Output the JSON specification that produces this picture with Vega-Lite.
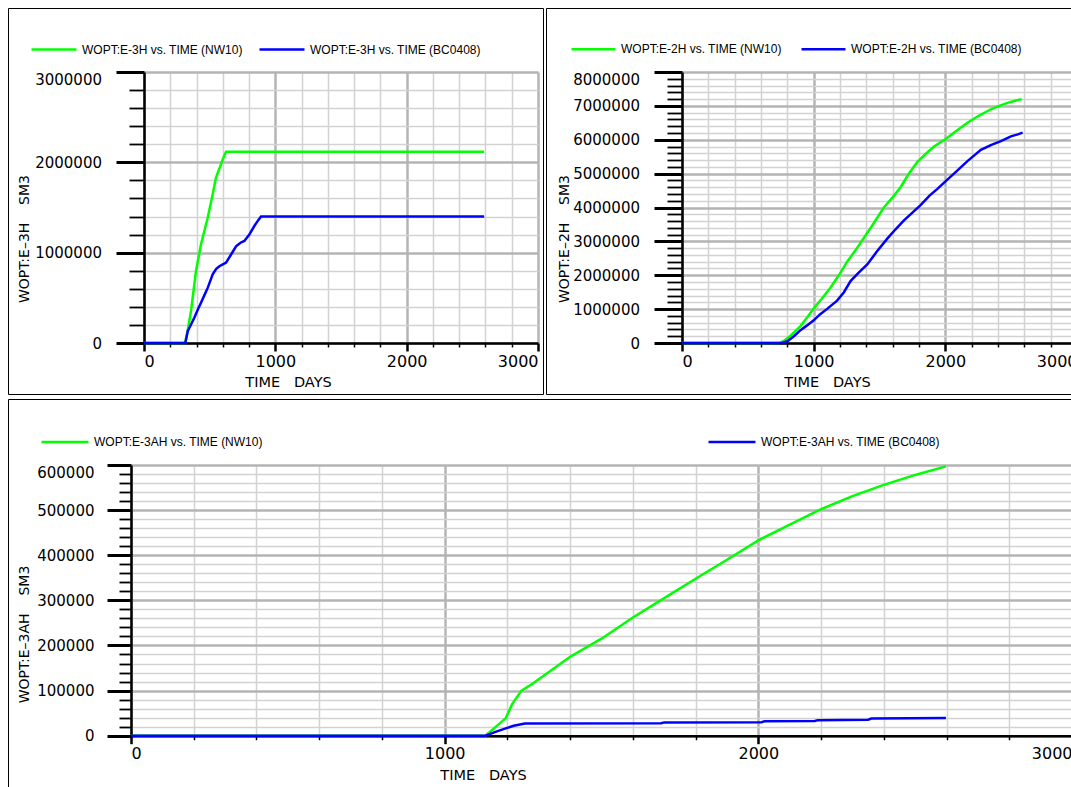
{
  "$schema": "https://vega.github.io/schema/vega-lite/v6.json",
  "padding": {"left": 7, "top": 7, "right": 0, "bottom": 0},
  "background": "white",
  "config": {
    "view": {"stroke": "#000000", "strokeWidth": 1, "fill": "white"},
    "line": {"strokeWidth": 2.5},
    "axis": {
      "labelFont": "DejaVu Sans", "labelColor": "#000000", "labelOverlap": false,
      "domainColor": "#000000", "domainWidth": 2.5, "tickColor": "#000000",
      "titleFont": "DejaVu Sans", "titleFontWeight": "normal", "titleColor": "#000000",
      "format": "d", "tickCount": 200
    },
    "legend": {
      "labelFont": "Liberation Sans", "labelFontSize": 12, "labelColor": "#000000",
      "symbolType": "stroke", "symbolStrokeWidth": 2.5, "labelOffset": 4, "padding": 0, "labelLimit": 400
    }
  },
  "datasets": {
    "tl_a": [
      {"t": 0, "v": 0, "s": "WOPT:E-3H vs. TIME (NW10)"},
      {"t": 312, "v": 0, "s": "WOPT:E-3H vs. TIME (NW10)"},
      {"t": 330, "v": 120000, "s": "WOPT:E-3H vs. TIME (NW10)"},
      {"t": 358, "v": 354000, "s": "WOPT:E-3H vs. TIME (NW10)"},
      {"t": 396, "v": 797000, "s": "WOPT:E-3H vs. TIME (NW10)"},
      {"t": 434, "v": 1093000, "s": "WOPT:E-3H vs. TIME (NW10)"},
      {"t": 485, "v": 1387000, "s": "WOPT:E-3H vs. TIME (NW10)"},
      {"t": 523, "v": 1646000, "s": "WOPT:E-3H vs. TIME (NW10)"},
      {"t": 548, "v": 1830000, "s": "WOPT:E-3H vs. TIME (NW10)"},
      {"t": 586, "v": 1978000, "s": "WOPT:E-3H vs. TIME (NW10)"},
      {"t": 610, "v": 2070000, "s": "WOPT:E-3H vs. TIME (NW10)"},
      {"t": 625, "v": 2118000, "s": "WOPT:E-3H vs. TIME (NW10)"},
      {"t": 2590, "v": 2118000, "s": "WOPT:E-3H vs. TIME (NW10)"}
    ],
    "tl_b": [
      {"t": 0, "v": 0, "s": "WOPT:E-3H vs. TIME (BC0408)"},
      {"t": 315, "v": 0, "s": "WOPT:E-3H vs. TIME (BC0408)"},
      {"t": 333, "v": 130000, "s": "WOPT:E-3H vs. TIME (BC0408)"},
      {"t": 360, "v": 210000, "s": "WOPT:E-3H vs. TIME (BC0408)"},
      {"t": 383, "v": 280000, "s": "WOPT:E-3H vs. TIME (BC0408)"},
      {"t": 410, "v": 370000, "s": "WOPT:E-3H vs. TIME (BC0408)"},
      {"t": 434, "v": 446000, "s": "WOPT:E-3H vs. TIME (BC0408)"},
      {"t": 460, "v": 530000, "s": "WOPT:E-3H vs. TIME (BC0408)"},
      {"t": 485, "v": 610000, "s": "WOPT:E-3H vs. TIME (BC0408)"},
      {"t": 523, "v": 760000, "s": "WOPT:E-3H vs. TIME (BC0408)"},
      {"t": 550, "v": 820000, "s": "WOPT:E-3H vs. TIME (BC0408)"},
      {"t": 574, "v": 850000, "s": "WOPT:E-3H vs. TIME (BC0408)"},
      {"t": 600, "v": 870000, "s": "WOPT:E-3H vs. TIME (BC0408)"},
      {"t": 625, "v": 890000, "s": "WOPT:E-3H vs. TIME (BC0408)"},
      {"t": 663, "v": 980000, "s": "WOPT:E-3H vs. TIME (BC0408)"},
      {"t": 701, "v": 1070000, "s": "WOPT:E-3H vs. TIME (BC0408)"},
      {"t": 735, "v": 1110000, "s": "WOPT:E-3H vs. TIME (BC0408)"},
      {"t": 764, "v": 1130000, "s": "WOPT:E-3H vs. TIME (BC0408)"},
      {"t": 802, "v": 1200000, "s": "WOPT:E-3H vs. TIME (BC0408)"},
      {"t": 840, "v": 1295000, "s": "WOPT:E-3H vs. TIME (BC0408)"},
      {"t": 870, "v": 1360000, "s": "WOPT:E-3H vs. TIME (BC0408)"},
      {"t": 891, "v": 1400000, "s": "WOPT:E-3H vs. TIME (BC0408)"},
      {"t": 2590, "v": 1400000, "s": "WOPT:E-3H vs. TIME (BC0408)"}
    ],
    "tr_a": [
      {"t": 0, "v": 0, "s": "WOPT:E-2H vs. TIME (NW10)"},
      {"t": 740, "v": 0, "s": "WOPT:E-2H vs. TIME (NW10)"},
      {"t": 780, "v": 80000, "s": "WOPT:E-2H vs. TIME (NW10)"},
      {"t": 820, "v": 200000, "s": "WOPT:E-2H vs. TIME (NW10)"},
      {"t": 860, "v": 350000, "s": "WOPT:E-2H vs. TIME (NW10)"},
      {"t": 900, "v": 500000, "s": "WOPT:E-2H vs. TIME (NW10)"},
      {"t": 950, "v": 750000, "s": "WOPT:E-2H vs. TIME (NW10)"},
      {"t": 1000, "v": 1020000, "s": "WOPT:E-2H vs. TIME (NW10)"},
      {"t": 1060, "v": 1300000, "s": "WOPT:E-2H vs. TIME (NW10)"},
      {"t": 1127, "v": 1630000, "s": "WOPT:E-2H vs. TIME (NW10)"},
      {"t": 1200, "v": 2050000, "s": "WOPT:E-2H vs. TIME (NW10)"},
      {"t": 1254, "v": 2400000, "s": "WOPT:E-2H vs. TIME (NW10)"},
      {"t": 1320, "v": 2750000, "s": "WOPT:E-2H vs. TIME (NW10)"},
      {"t": 1381, "v": 3100000, "s": "WOPT:E-2H vs. TIME (NW10)"},
      {"t": 1450, "v": 3500000, "s": "WOPT:E-2H vs. TIME (NW10)"},
      {"t": 1533, "v": 4000000, "s": "WOPT:E-2H vs. TIME (NW10)"},
      {"t": 1600, "v": 4300000, "s": "WOPT:E-2H vs. TIME (NW10)"},
      {"t": 1660, "v": 4600000, "s": "WOPT:E-2H vs. TIME (NW10)"},
      {"t": 1720, "v": 4980000, "s": "WOPT:E-2H vs. TIME (NW10)"},
      {"t": 1788, "v": 5350000, "s": "WOPT:E-2H vs. TIME (NW10)"},
      {"t": 1850, "v": 5580000, "s": "WOPT:E-2H vs. TIME (NW10)"},
      {"t": 1914, "v": 5800000, "s": "WOPT:E-2H vs. TIME (NW10)"},
      {"t": 2003, "v": 6020000, "s": "WOPT:E-2H vs. TIME (NW10)"},
      {"t": 2080, "v": 6250000, "s": "WOPT:E-2H vs. TIME (NW10)"},
      {"t": 2168, "v": 6500000, "s": "WOPT:E-2H vs. TIME (NW10)"},
      {"t": 2250, "v": 6700000, "s": "WOPT:E-2H vs. TIME (NW10)"},
      {"t": 2346, "v": 6900000, "s": "WOPT:E-2H vs. TIME (NW10)"},
      {"t": 2410, "v": 7000000, "s": "WOPT:E-2H vs. TIME (NW10)"},
      {"t": 2473, "v": 7090000, "s": "WOPT:E-2H vs. TIME (NW10)"},
      {"t": 2530, "v": 7150000, "s": "WOPT:E-2H vs. TIME (NW10)"},
      {"t": 2580, "v": 7200000, "s": "WOPT:E-2H vs. TIME (NW10)"}
    ],
    "tr_b": [
      {"t": 0, "v": 0, "s": "WOPT:E-2H vs. TIME (BC0408)"},
      {"t": 760, "v": 0, "s": "WOPT:E-2H vs. TIME (BC0408)"},
      {"t": 800, "v": 50000, "s": "WOPT:E-2H vs. TIME (BC0408)"},
      {"t": 850, "v": 200000, "s": "WOPT:E-2H vs. TIME (BC0408)"},
      {"t": 900, "v": 380000, "s": "WOPT:E-2H vs. TIME (BC0408)"},
      {"t": 950, "v": 520000, "s": "WOPT:E-2H vs. TIME (BC0408)"},
      {"t": 1000, "v": 670000, "s": "WOPT:E-2H vs. TIME (BC0408)"},
      {"t": 1050, "v": 850000, "s": "WOPT:E-2H vs. TIME (BC0408)"},
      {"t": 1100, "v": 1000000, "s": "WOPT:E-2H vs. TIME (BC0408)"},
      {"t": 1178, "v": 1250000, "s": "WOPT:E-2H vs. TIME (BC0408)"},
      {"t": 1230, "v": 1500000, "s": "WOPT:E-2H vs. TIME (BC0408)"},
      {"t": 1280, "v": 1830000, "s": "WOPT:E-2H vs. TIME (BC0408)"},
      {"t": 1340, "v": 2070000, "s": "WOPT:E-2H vs. TIME (BC0408)"},
      {"t": 1407, "v": 2320000, "s": "WOPT:E-2H vs. TIME (BC0408)"},
      {"t": 1480, "v": 2700000, "s": "WOPT:E-2H vs. TIME (BC0408)"},
      {"t": 1559, "v": 3080000, "s": "WOPT:E-2H vs. TIME (BC0408)"},
      {"t": 1620, "v": 3350000, "s": "WOPT:E-2H vs. TIME (BC0408)"},
      {"t": 1686, "v": 3620000, "s": "WOPT:E-2H vs. TIME (BC0408)"},
      {"t": 1750, "v": 3850000, "s": "WOPT:E-2H vs. TIME (BC0408)"},
      {"t": 1812, "v": 4070000, "s": "WOPT:E-2H vs. TIME (BC0408)"},
      {"t": 1880, "v": 4350000, "s": "WOPT:E-2H vs. TIME (BC0408)"},
      {"t": 1940, "v": 4550000, "s": "WOPT:E-2H vs. TIME (BC0408)"},
      {"t": 2003, "v": 4780000, "s": "WOPT:E-2H vs. TIME (BC0408)"},
      {"t": 2080, "v": 5050000, "s": "WOPT:E-2H vs. TIME (BC0408)"},
      {"t": 2168, "v": 5370000, "s": "WOPT:E-2H vs. TIME (BC0408)"},
      {"t": 2270, "v": 5700000, "s": "WOPT:E-2H vs. TIME (BC0408)"},
      {"t": 2350, "v": 5850000, "s": "WOPT:E-2H vs. TIME (BC0408)"},
      {"t": 2422, "v": 5960000, "s": "WOPT:E-2H vs. TIME (BC0408)"},
      {"t": 2498, "v": 6100000, "s": "WOPT:E-2H vs. TIME (BC0408)"},
      {"t": 2550, "v": 6160000, "s": "WOPT:E-2H vs. TIME (BC0408)"},
      {"t": 2587, "v": 6210000, "s": "WOPT:E-2H vs. TIME (BC0408)"}
    ],
    "b_a": [
      {"t": 0, "v": 0, "s": "WOPT:E-3AH vs. TIME (NW10)"},
      {"t": 1130, "v": 0, "s": "WOPT:E-3AH vs. TIME (NW10)"},
      {"t": 1160, "v": 18000, "s": "WOPT:E-3AH vs. TIME (NW10)"},
      {"t": 1195, "v": 39000, "s": "WOPT:E-3AH vs. TIME (NW10)"},
      {"t": 1215, "v": 70000, "s": "WOPT:E-3AH vs. TIME (NW10)"},
      {"t": 1245, "v": 100000, "s": "WOPT:E-3AH vs. TIME (NW10)"},
      {"t": 1280, "v": 115000, "s": "WOPT:E-3AH vs. TIME (NW10)"},
      {"t": 1320, "v": 135000, "s": "WOPT:E-3AH vs. TIME (NW10)"},
      {"t": 1400, "v": 175000, "s": "WOPT:E-3AH vs. TIME (NW10)"},
      {"t": 1500, "v": 215000, "s": "WOPT:E-3AH vs. TIME (NW10)"},
      {"t": 1600, "v": 262000, "s": "WOPT:E-3AH vs. TIME (NW10)"},
      {"t": 1700, "v": 305000, "s": "WOPT:E-3AH vs. TIME (NW10)"},
      {"t": 1800, "v": 348000, "s": "WOPT:E-3AH vs. TIME (NW10)"},
      {"t": 1900, "v": 390000, "s": "WOPT:E-3AH vs. TIME (NW10)"},
      {"t": 2000, "v": 433000, "s": "WOPT:E-3AH vs. TIME (NW10)"},
      {"t": 2100, "v": 468000, "s": "WOPT:E-3AH vs. TIME (NW10)"},
      {"t": 2200, "v": 502000, "s": "WOPT:E-3AH vs. TIME (NW10)"},
      {"t": 2300, "v": 531000, "s": "WOPT:E-3AH vs. TIME (NW10)"},
      {"t": 2400, "v": 556000, "s": "WOPT:E-3AH vs. TIME (NW10)"},
      {"t": 2500, "v": 578000, "s": "WOPT:E-3AH vs. TIME (NW10)"},
      {"t": 2598, "v": 597000, "s": "WOPT:E-3AH vs. TIME (NW10)"}
    ],
    "b_b": [
      {"t": 0, "v": 0, "s": "WOPT:E-3AH vs. TIME (BC0408)"},
      {"t": 1130, "v": 0, "s": "WOPT:E-3AH vs. TIME (BC0408)"},
      {"t": 1160, "v": 8000, "s": "WOPT:E-3AH vs. TIME (BC0408)"},
      {"t": 1190, "v": 15000, "s": "WOPT:E-3AH vs. TIME (BC0408)"},
      {"t": 1220, "v": 22000, "s": "WOPT:E-3AH vs. TIME (BC0408)"},
      {"t": 1256, "v": 27000, "s": "WOPT:E-3AH vs. TIME (BC0408)"},
      {"t": 1690, "v": 27500, "s": "WOPT:E-3AH vs. TIME (BC0408)"},
      {"t": 1700, "v": 29500, "s": "WOPT:E-3AH vs. TIME (BC0408)"},
      {"t": 2010, "v": 30000, "s": "WOPT:E-3AH vs. TIME (BC0408)"},
      {"t": 2020, "v": 32000, "s": "WOPT:E-3AH vs. TIME (BC0408)"},
      {"t": 2180, "v": 32500, "s": "WOPT:E-3AH vs. TIME (BC0408)"},
      {"t": 2190, "v": 34500, "s": "WOPT:E-3AH vs. TIME (BC0408)"},
      {"t": 2350, "v": 35500, "s": "WOPT:E-3AH vs. TIME (BC0408)"},
      {"t": 2360, "v": 38000, "s": "WOPT:E-3AH vs. TIME (BC0408)"},
      {"t": 2598, "v": 39000, "s": "WOPT:E-3AH vs. TIME (BC0408)"}
    ]
  },
  "spacing": 3,
  "resolve": {"scale": {"color": "independent"}},
  "vconcat": [
    {
      "spacing": 1,
      "resolve": {"scale": {"color": "independent"}},
      "hconcat": [
        {
          "width": 535, "height": 386,
          "resolve": {"axis": {"x": "independent"}},
          "layer": [
            {
              "data": {"name": "tl_a"},
              "mark": {"type": "line", "strokeWidth": 2.5},
              "encoding": {
                "x": {"field": "t", "type": "quantitative",
                  "scale": {"domain": [0, 3000], "range": [136, 530], "nice": false, "zero": false},
                  "axis": {"orient": "bottom", "offset": -51, "grid": false,
                    "values": [0,200,400,600,800,1000,1200,1400,1600,1800,2000,2200,2400,2600,2800,3000],
                    "labelExpr": "datum.value % 1000 === 0 ? datum.label : ''",
                    "labelFlush": true, "labelFontSize": 16, "labelPadding": 2,
                    "tickSize": {"condition": {"test": "datum.value % 1000 === 0", "value": 8}, "value": 4},
                    "tickWidth": {"condition": {"test": "datum.value % 1000 === 0", "value": 2.5}, "value": 1.5},
                    "title": "TIME\u00a0\u00a0\u00a0DAYS", "titleFontSize": 14.5, "titleX": 280, "titleY": 43,
                    "titleBaseline": "alphabetic", "titleAlign": "center"}},
                "y": {"field": "v", "type": "quantitative",
                  "scale": {"domain": [0, 3000000], "range": [335, 64], "nice": false, "zero": false},
                  "axis": {"orient": "left", "offset": -136, "grid": true,
                    "values": [0,200000,400000,600000,800000,1000000,1200000,1400000,1600000,1800000,2000000,2200000,2400000,2600000,2800000,3000000],
                    "labelExpr": "datum.value % 1000000 === 0 ? datum.label : ''",
                    "labelFontSize": 15, "labelPadding": 14.5,
                    "labelBaseline": {"condition": {"test": "datum.value === 3000000", "value": "top"}, "value": "middle"},
                    "tickSize": {"condition": {"test": "datum.value % 1000000 === 0", "value": 28}, "value": 15},
                    "tickWidth": {"condition": {"test": "datum.value % 1000000 === 0", "value": 3}, "value": 1.8},
                    "gridColor": {"condition": {"test": "datum.value % 1000000 === 0", "value": "#b4b4b4"}, "value": "#d2d2d2"},
                    "gridWidth": {"condition": {"test": "datum.value % 1000000 === 0", "value": 2.5}, "value": 1.5},
                    "title": "WOPT:E–3H\u00a0\u00a0\u00a0\u00a0SM3", "titleFontSize": 14, "titleX": -116, "titleY": 230.5,
                    "titleBaseline": "alphabetic", "titleAlign": "center", "titleAngle": -90}},
                "color": {"field": "s", "type": "nominal",
                  "scale": {"domain": ["WOPT:E-3H vs. TIME (NW10)", "WOPT:E-3H vs. TIME (BC0408)"], "range": ["#00ff00", "#0000ff"]},
                  "legend": {"orient": "none", "legendX": 22, "legendY": 17.5, "direction": "horizontal", "title": null,
                    "symbolSize": 2025, "columnPadding": 11}}
              }
            },
            {
              "data": {"name": "tl_b"},
              "mark": {"type": "line", "strokeWidth": 2.5},
              "encoding": {
                "x": {"field": "t", "type": "quantitative",
                  "axis": {"orient": "top", "grid": true, "domain": false, "ticks": false, "labels": false, "title": null,
                    "values": [0,200,400,600,800,1000,1200,1400,1600,1800,2000,2200,2400,2600,2800,3000],
                    "gridColor": {"condition": {"test": "datum.value % 1000 === 0", "value": "#b4b4b4"}, "value": "#d2d2d2"},
                    "gridWidth": {"condition": {"test": "datum.value % 1000 === 0", "value": 2.5}, "value": 1.5}}},
                "y": {"field": "v", "type": "quantitative"},
                "color": {"field": "s", "type": "nominal"}
              }
            }
          ]
        },
        {
          "width": 530, "height": 386,
          "resolve": {"axis": {"x": "independent"}},
          "layer": [
            {
              "data": {"name": "tr_a"},
              "mark": {"type": "line", "strokeWidth": 2.5},
              "encoding": {
                "x": {"field": "t", "type": "quantitative",
                  "scale": {"domain": [0, 3000], "range": [136, 531], "nice": false, "zero": false},
                  "axis": {"orient": "bottom", "offset": -51, "grid": false,
                    "values": [0,200,400,600,800,1000,1200,1400,1600,1800,2000,2200,2400,2600,2800,3000],
                    "labelExpr": "datum.value % 1000 === 0 ? datum.label : ''",
                    "labelFlush": true, "labelFontSize": 16, "labelPadding": 2,
                    "tickSize": {"condition": {"test": "datum.value % 1000 === 0", "value": 8}, "value": 4},
                    "tickWidth": {"condition": {"test": "datum.value % 1000 === 0", "value": 2.5}, "value": 1.5},
                    "title": "TIME\u00a0\u00a0\u00a0DAYS", "titleFontSize": 14.5, "titleX": 281, "titleY": 43,
                    "titleBaseline": "alphabetic", "titleAlign": "center"}},
                "y": {"field": "v", "type": "quantitative",
                  "scale": {"domain": [0, 8000000], "range": [335, 64], "nice": false, "zero": false},
                  "axis": {"orient": "left", "offset": -136, "grid": true,
                    "values": [0,200000,400000,600000,800000,1000000,1200000,1400000,1600000,1800000,2000000,2200000,2400000,2600000,2800000,3000000,3200000,3400000,3600000,3800000,4000000,4200000,4400000,4600000,4800000,5000000,5200000,5400000,5600000,5800000,6000000,6200000,6400000,6600000,6800000,7000000,7200000,7400000,7600000,7800000,8000000],
                    "labelExpr": "datum.value % 1000000 === 0 ? datum.label : ''",
                    "labelFontSize": 15, "labelPadding": 14.5,
                    "labelBaseline": {"condition": {"test": "datum.value === 8000000", "value": "top"}, "value": "middle"},
                    "tickSize": {"condition": {"test": "datum.value % 1000000 === 0", "value": 28}, "value": 15},
                    "tickWidth": {"condition": {"test": "datum.value % 1000000 === 0", "value": 3}, "value": 1.8},
                    "gridColor": {"condition": {"test": "datum.value % 1000000 === 0", "value": "#b4b4b4"}, "value": "#d2d2d2"},
                    "gridWidth": {"condition": {"test": "datum.value % 1000000 === 0", "value": 2.5}, "value": 1.5},
                    "title": "WOPT:E–2H\u00a0\u00a0\u00a0\u00a0SM3", "titleFontSize": 14, "titleX": -114, "titleY": 230.5,
                    "titleBaseline": "alphabetic", "titleAlign": "center", "titleAngle": -90}},
                "color": {"field": "s", "type": "nominal",
                  "scale": {"domain": ["WOPT:E-2H vs. TIME (NW10)", "WOPT:E-2H vs. TIME (BC0408)"], "range": ["#00ff00", "#0000ff"]},
                  "legend": {"orient": "none", "legendX": 24, "legendY": 17.5, "direction": "horizontal", "title": null,
                    "symbolSize": 1936, "columnPadding": 14}}
              }
            },
            {
              "data": {"name": "tr_b"},
              "mark": {"type": "line", "strokeWidth": 2.5},
              "encoding": {
                "x": {"field": "t", "type": "quantitative",
                  "axis": {"orient": "top", "grid": true, "domain": false, "ticks": false, "labels": false, "title": null,
                    "values": [0,200,400,600,800,1000,1200,1400,1600,1800,2000,2200,2400,2600,2800,3000],
                    "gridColor": {"condition": {"test": "datum.value % 1000 === 0", "value": "#b4b4b4"}, "value": "#d2d2d2"},
                    "gridWidth": {"condition": {"test": "datum.value % 1000 === 0", "value": 2.5}, "value": 1.5}}},
                "y": {"field": "v", "type": "quantitative"},
                "color": {"field": "s", "type": "nominal"}
              }
            }
          ]
        }
      ]
    },
    {
      "width": 1070, "height": 392,
      "resolve": {"axis": {"x": "independent"}},
      "layer": [
        {
          "data": {"name": "b_a"},
          "mark": {"type": "line", "strokeWidth": 2.5},
          "encoding": {
            "x": {"field": "t", "type": "quantitative",
              "scale": {"domain": [0, 3000], "range": [123, 1064], "nice": false, "zero": false},
              "axis": {"orient": "bottom", "offset": -55.3, "grid": false,
                "values": [0,200,400,600,800,1000,1200,1400,1600,1800,2000,2200,2400,2600,2800,3000],
                "labelExpr": "datum.value % 1000 === 0 ? datum.label : ''",
                "labelFlush": true, "labelFontSize": 16, "labelPadding": 2,
                "tickSize": {"condition": {"test": "datum.value % 1000 === 0", "value": 8}, "value": 4},
                "tickWidth": {"condition": {"test": "datum.value % 1000 === 0", "value": 2.5}, "value": 1.5},
                "title": "TIME\u00a0\u00a0\u00a0DAYS", "titleFontSize": 14.5, "titleX": 475, "titleY": 44,
                "titleBaseline": "alphabetic", "titleAlign": "center"}},
            "y": {"field": "v", "type": "quantitative",
              "scale": {"domain": [0, 600000], "range": [336.7, 66], "nice": false, "zero": false},
              "axis": {"orient": "left", "offset": -123, "grid": true,
                "values": [0,20000,40000,60000,80000,100000,120000,140000,160000,180000,200000,220000,240000,260000,280000,300000,320000,340000,360000,380000,400000,420000,440000,460000,480000,500000,520000,540000,560000,580000,600000],
                "labelExpr": "datum.value % 100000 === 0 ? datum.label : ''",
                "labelFontSize": 15, "labelPadding": 13,
                "labelBaseline": {"condition": {"test": "datum.value === 600000", "value": "top"}, "value": "middle"},
                "tickSize": {"condition": {"test": "datum.value % 100000 === 0", "value": 24}, "value": 12},
                "tickWidth": {"condition": {"test": "datum.value % 100000 === 0", "value": 3}, "value": 1.8},
                "gridColor": {"condition": {"test": "datum.value % 100000 === 0", "value": "#b4b4b4"}, "value": "#d2d2d2"},
                "gridWidth": {"condition": {"test": "datum.value % 100000 === 0", "value": 2.5}, "value": 1.5},
                "title": "WOPT:E–3AH\u00a0\u00a0\u00a0\u00a0SM3", "titleFontSize": 14, "titleX": -103, "titleY": 235,
                "titleBaseline": "alphabetic", "titleAlign": "center", "titleAngle": -90}},
            "color": {"field": "s", "type": "nominal",
              "scale": {"domain": ["WOPT:E-3AH vs. TIME (NW10)", "WOPT:E-3AH vs. TIME (BC0408)"], "range": ["#00ff00", "#0000ff"]},
              "legend": {"orient": "none", "legendX": 32, "legendY": 18, "direction": "horizontal", "title": null,
                "symbolSize": 2209, "columnPadding": 440}}
          }
        },
        {
          "data": {"name": "b_b"},
          "mark": {"type": "line", "strokeWidth": 2.5},
          "encoding": {
            "x": {"field": "t", "type": "quantitative",
              "axis": {"orient": "top", "grid": true, "domain": false, "ticks": false, "labels": false, "title": null,
                "values": [0,200,400,600,800,1000,1200,1400,1600,1800,2000,2200,2400,2600,2800,3000],
                "gridColor": {"condition": {"test": "datum.value % 1000 === 0", "value": "#b4b4b4"}, "value": "#d2d2d2"},
                "gridWidth": {"condition": {"test": "datum.value % 1000 === 0", "value": 2.5}, "value": 1.5}}},
            "y": {"field": "v", "type": "quantitative"},
            "color": {"field": "s", "type": "nominal"}
          }
        }
      ]
    }
  ]
}
